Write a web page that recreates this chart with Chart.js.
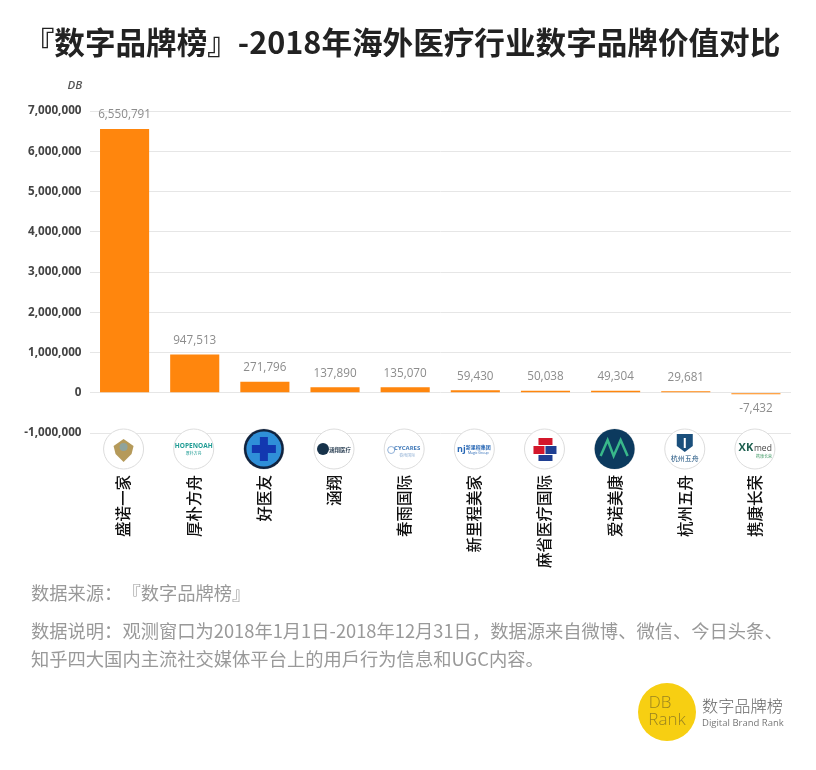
<!DOCTYPE html>
<html>
<head>
<meta charset="utf-8">
<title>数字品牌榜</title>
<script src="https://cdn.jsdelivr.net/npm/chart.js@4"></script>
<style>
body { margin: 0; background: #fff; }
#wrap { position: relative; width: 816px; height: 770px; overflow: hidden; font-family: "Noto Sans CJK SC", sans-serif; }
#myChart { position: absolute; left: 0; top: 0; }
.txt { position: absolute; white-space: nowrap; }
#title { left: -6px; width: 816px; top: 19px; text-align: center; font-size: 30.6px; font-weight: 700; color: #222; line-height: 44px; }
.note { left: 31px; color: #999; font-size: 18.3px; font-weight: 400; line-height: 28px; text-spacing-trim: space-all; }
#brand { left: 702px; top: 694px; color: #666; font-size: 16.2px; line-height: 22px; font-weight: 300; }
#brandEn { left: 702px; top: 716px; color: #777; font-size: 9.5px; line-height: 14px; font-family: "Open Sans", sans-serif; }
</style>
</head>
<body>
<div id="wrap">
    <canvas id="myChart" width="816" height="770"></canvas>
    <div class="txt" id="title">『数字品牌榜』-2018年海外医疗行业数字品牌价值对比</div>
    <div class="txt note" style="top:578px">数据来源：『数字品牌榜』</div>
    <div class="txt note" style="top:616px">数据说明：观测窗口为2018年1月1日-2018年12月31日，数据源来自微博、微信、今日头条、</div>
    <div class="txt note" style="top:644px">知乎四大国内主流社交媒体平台上的用戶行为信息和UGC内容。</div>
    <div class="txt" id="brand">数字品牌榜</div>
    <div class="txt" id="brandEn">Digital Brand Rank</div>
</div>
<script>
const brands = ["盛诺一家", "厚朴方舟", "好医友", "涵翔", "春雨国际", "新里程美家", "麻省医疗国际", "爱诺美康", "杭州五舟", "携康长荣"];
const brandValues = [6550791, 947513, 271796, 137890, 135070, 59430, 50038, 49304, 29681, -7432];
const yTicks = [7000000, 6000000, 5000000, 4000000, 3000000, 2000000, 1000000, 0, -1000000];

function circle(c, x, y, r, fill, stroke) {
    c.beginPath();
    c.arc(x, y, r, 0, Math.PI * 2);
    if (fill) { c.fillStyle = fill; c.fill(); }
    if (stroke) { c.strokeStyle = stroke; c.lineWidth = 1; c.stroke(); }
}

function label(c, text, x, y, font, color) {
    c.font = font;
    c.fillStyle = color;
    c.textAlign = "center";
    c.textBaseline = "middle";
    c.fillText(text, x, y);
}

// small stand-ins for the brand logos under each bar
const logos = [
    (c, x, y) => {
        c.fillStyle = "#b59a5a";
        c.beginPath();
        c.moveTo(x - 10, y - 3); c.lineTo(x, y - 10); c.lineTo(x + 10, y - 3); c.lineTo(x + 8, y + 5); c.lineTo(x, y + 13); c.lineTo(x - 8, y + 5);
        c.closePath(); c.fill();
        circle(c, x, y - 2, 4, "#8fa39c");
    },
    (c, x, y) => {
        label(c, "HOPENOAH", x, y - 3, "bold 6.5px 'Open Sans'", "#1f9c94");
        label(c, "厚朴方舟", x, y + 4, "4px 'Noto Sans CJK SC'", "#1f9c94");
    },
    (c, x, y) => {
        circle(c, x, y, 20, "#10233f");
        circle(c, x, y, 17.5, "#2f8fd8");
        c.fillStyle = "#1238b0";
        c.fillRect(x - 4, y - 12, 8, 24);
        c.fillRect(x - 12, y - 4, 24, 8);
    },
    (c, x, y) => {
        circle(c, x - 11, y, 6, "#16324a");
        label(c, "涵翔医疗", x + 6, y + 1, "bold 5.5px 'Noto Sans CJK SC'", "#33475a");
    },
    (c, x, y) => {
        circle(c, x - 13, y + 1, 3.5, null, "#8fb0d8");
        label(c, "CYCARES", x + 3, y - 1, "bold 6px 'Open Sans'", "#3f78b8");
        label(c, "春雨国际", x + 3, y + 6, "4px 'Noto Sans CJK SC'", "#9bb7d8");
    },
    (c, x, y) => {
        label(c, "nj", x - 13, y, "bold 9px 'Open Sans'", "#2767b5");
        label(c, "新里程集团", x + 4, y - 2, "bold 5px 'Noto Sans CJK SC'", "#2767b5");
        label(c, "Magic Group", x + 4, y + 4, "3.5px 'Open Sans'", "#2767b5");
    },
    (c, x, y) => {
        c.fillStyle = "#d3172b";
        c.fillRect(x - 6, y - 11, 14, 7);
        c.fillRect(x - 11, y - 3, 11, 8);
        c.fillStyle = "#1f3f92";
        c.fillRect(x + 1, y - 3, 11, 8);
        c.fillRect(x - 6, y + 6, 14, 6);
    },
    (c, x, y) => {
        circle(c, x, y, 20, "#0c3a5e");
        c.strokeStyle = "#39b88a";
        c.lineWidth = 2.5;
        c.beginPath();
        c.moveTo(x - 14, y + 7); c.lineTo(x - 7, y - 9); c.lineTo(x - 1, y + 7); c.lineTo(x + 6, y - 9); c.lineTo(x + 13, y + 7);
        c.stroke();
    },
    (c, x, y) => {
        c.fillStyle = "#1a4f7c";
        c.beginPath();
        c.moveTo(x - 8, y - 15); c.lineTo(x + 8, y - 15); c.lineTo(x + 8, y - 3); c.lineTo(x, y + 3); c.lineTo(x - 8, y - 3);
        c.closePath(); c.fill();
        c.fillStyle = "#fff";
        c.fillRect(x - 1, y - 11, 2, 10);
        label(c, "杭州五舟", x, y + 9, "7px 'Noto Sans CJK SC'", "#1a4f7c");
    },
    (c, x, y) => {
        label(c, "XK", x - 9, y - 1, "bold 11px 'Open Sans'", "#1d5f4f");
        label(c, "med", x + 8, y, "8.5px 'Open Sans'", "#444");
        label(c, "携康长荣", x + 9, y + 7, "4px 'Noto Sans CJK SC'", "#4da06f");
    }
];

const extras = {
    id: "extras",
    afterDatasetsDraw(chart) {
        const c = chart.ctx;
        const meta = chart.getDatasetMeta(0);
        const xScale = chart.scales.x;
        c.save();
        // value labels
        meta.data.forEach((bar, i) => {
            const v = brandValues[i];
            const y = v < 0 ? bar.y + 14 : bar.y - 14;
            label(c, v.toLocaleString("en-US"), bar.x, y, "11.7px 'Open Sans'", "#8c8c8c");
        });
        // logos
        brands.forEach((b, i) => {
            const x = xScale.getPixelForTick(i) - 1;
            const y = chart.scales.y.bottom + 16;
            circle(c, x, y, 20, "#fff", "#dcdcdc");
            logos[i](c, x, y);
        });
        // unit
        label(c, "DB", 75, 86, "italic 600 11.5px 'Open Sans'", "#555");
        // brand mark bottom right
        circle(c, 667, 712, 29, "#f7cf12");
        label(c, "DB", 660, 703, "300 17px 'Open Sans'", "#9a8420");
        label(c, "Rank", 667, 720, "300 17px 'Open Sans'", "#9a8420");
        c.restore();
    }
};

new Chart(document.getElementById("myChart"), {
    type: "bar",
    data: {
        labels: brands,
        datasets: [{
            data: brandValues,
            backgroundColor: "#ff860d",
            categoryPercentage: 1,
            barPercentage: 0.7,
            minBarLength: 1.5
        }]
    },
    options: {
        responsive: false,
        animation: false,
        layout: { padding: { top: 111, right: 25, left: 0, bottom: 0 } },
        plugins: { legend: { display: false }, tooltip: { enabled: false } },
        scales: {
            x: {
                grid: { display: false },
                border: { display: false },
                afterFit(axis) { axis.height = 337; },
                ticks: {
                    autoSkip: false,
                    minRotation: 90,
                    maxRotation: 90,
                    padding: 34,
                    labelOffset: -1,
                    color: "#111",
                    font: { family: "'Noto Sans CJK SC'", size: 15.5, weight: "500" }
                }
            },
            y: {
                min: -1000000,
                max: 7000000,
                afterFit(axis) { axis.width = 89.5; },
                afterBuildTicks(axis) { axis.ticks = yTicks.map(v => ({ value: v })); },
                grid: { color: "#e6e6e6", drawTicks: false },
                border: { display: false },
                ticks: {
                    padding: 8,
                    color: "#444",
                    font: { family: "'Open Sans'", size: 11.7, weight: "bold" },
                    callback: v => v.toLocaleString("en-US")
                }
            }
        }
    },
    plugins: [extras]
});
</script>
</body>
</html>
